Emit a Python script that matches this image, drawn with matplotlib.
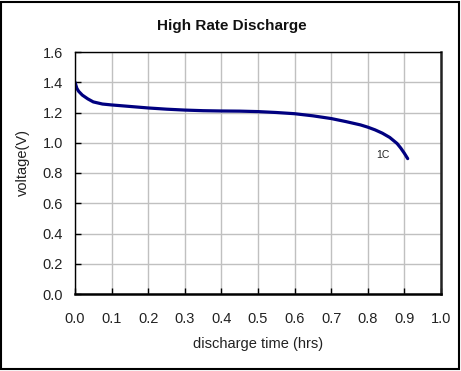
import matplotlib
matplotlib.use("Agg")
import matplotlib.pyplot as plt
from matplotlib.patches import Rectangle

plt.rcParams['font.family'] = ['Liberation Sans', 'DejaVu Sans']

title = "High Rate Discharge"
xlabel = "discharge time (hrs)"
ylabel = "voltage(V)"
series_label = "1C"
time_hrs = [0.0, 0.005, 0.01, 0.02, 0.035, 0.05, 0.075, 0.1, 0.15, 0.2, 0.25, 0.3, 0.35, 0.4, 0.45,
            0.5, 0.55, 0.6, 0.65, 0.7, 0.74, 0.78, 0.80, 0.82, 0.84, 0.86, 0.87, 0.88, 0.89, 0.90, 0.909]
voltage = [1.40, 1.36, 1.34, 1.315, 1.29, 1.27, 1.256, 1.25, 1.24, 1.23, 1.222, 1.216, 1.212, 1.21, 1.209,
           1.206, 1.20, 1.192, 1.178, 1.16, 1.14, 1.118, 1.103, 1.085, 1.063, 1.035, 1.015, 0.995, 0.965, 0.93, 0.895]
xticks = [0.0, 0.1, 0.2, 0.3, 0.4, 0.5, 0.6, 0.7, 0.8, 0.9, 1.0]
yticks = [0.0, 0.2, 0.4, 0.6, 0.8, 1.0, 1.2, 1.4, 1.6]

W, H = 461, 371
fig = plt.figure(figsize=(W/100, H/100), dpi=100)
L, R, T, B = 75, 441, 52, 294
ax = fig.add_axes([L/W, 1-B/H, (R-L)/W, (B-T)/H])

ax.plot(time_hrs, voltage, color='#000080', lw=2.3, solid_capstyle='round')
ax.set_xlim(0, 1.0)
ax.set_ylim(0, 1.6)
ax.set_xticks(xticks)
ax.set_yticks(yticks)
ax.set_xticklabels([f"{v:.1f}" for v in xticks])
ax.set_yticklabels([f"{v:.1f}" for v in yticks])
ax.grid(True, color='#c0c0c0', lw=1.0)
ax.set_axisbelow(True)
ax.tick_params(axis='both', direction='in', length=4, width=1, color='black', labelsize=10.5, labelcolor='#222222')
ax.tick_params(axis='x', pad=13)
ax.tick_params(axis='y', pad=8.5)
for s in ['left', 'top']:
    ax.spines[s].set_linewidth(1.0)
for s in ['right', 'bottom']:
    ax.spines[s].set_linewidth(1.8)
ax.spines['right'].set_color('#222222')

ax.set_xlabel(xlabel, fontsize=10.5, color='#222222')
ax.xaxis.set_label_coords(0.5, (B-344)/(B-T))
ax.xaxis.label.set_va('center')
ax.set_ylabel(ylabel, fontsize=10.5, color='#222222')
ax.yaxis.set_label_coords((23-L)/(R-L), (B-162)/(B-T))
ax.yaxis.label.set_va('center')

ax.text(0.842, 0.92, series_label, fontsize=7.5, ha='center', va='center', color='#222222')

fig.text(0.5*(157+306)/W, 1-26/H, title, fontsize=11, fontweight='bold', ha='center', va='center', color='#111111')

fig.patches.append(Rectangle((1/W, 2/H), (W-3)/W, (H-4)/H, transform=fig.transFigure,
                             fill=False, edgecolor='black', lw=1.5))

fig.savefig('out.png', dpi=100)
